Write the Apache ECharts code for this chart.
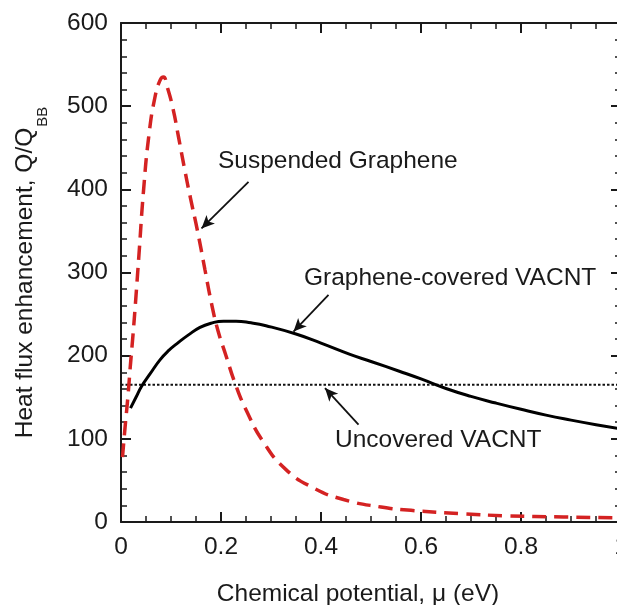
<!DOCTYPE html>
<html>
<head>
<meta charset="utf-8">
<script src="https://cdn.jsdelivr.net/npm/echarts@6/dist/echarts.min.js"></script>
<style>
  html, body { margin: 0; padding: 0; background: #fff; }
  #chart { width: 617px; height: 605px; }
</style>
</head>
<body>
<div id="chart"></div>
<script>
// Heat flux enhancement versus chemical potential

// Tick labels
const xTickLabels = ['0', '0.2', '0.4', '0.6', '0.8', '1'];
const yTickLabels = ['0', '100', '200', '300', '400', '500', '600'];

// Suspended graphene: [mu (eV), Q/QBB]
const suspendedGraphene = [
  [0.003, 78], [0.008, 113], [0.014, 152], [0.019, 190], [0.024, 225],
  [0.030, 272], [0.036, 322], [0.045, 398], [0.056, 466], [0.068, 511],
  [0.078, 531], [0.085, 535], [0.092, 524], [0.104, 497], [0.115, 463],
  [0.127, 425], [0.138, 392], [0.153, 350], [0.168, 303], [0.182, 260],
  [0.194, 230], [0.210, 200], [0.228, 167], [0.250, 135], [0.285, 96],
  [0.330, 63], [0.385, 41], [0.445, 27], [0.520, 18], [0.580, 14],
  [0.680, 10], [0.770, 7.5], [0.885, 6], [1.000, 5]
];

// Graphene-covered VACNT: [mu (eV), Q/QBB]
const grapheneCoveredVACNT = [
  [0.019, 137], [0.030, 150], [0.041, 163], [0.058, 178], [0.078, 195],
  [0.095, 206], [0.115, 216], [0.135, 225], [0.158, 234], [0.180, 239],
  [0.205, 241.5], [0.230, 241.5], [0.260, 239.5], [0.290, 236], [0.350, 226],
  [0.400, 215], [0.458, 201.5], [0.500, 193], [0.558, 181], [0.600, 172],
  [0.650, 160.5], [0.700, 151], [0.750, 143], [0.800, 135.5], [0.850, 128.5],
  [0.900, 122.5], [0.950, 117], [1.000, 112]
];

// Uncovered VACNT (constant level)
const uncoveredVACNT = [[0, 165], [1, 165]];

// Annotation arrows: [from, to] in data units
const arrowSuspended = [[0.255, 409], [0.161, 353]];
const arrowCovered = [[0.415, 273], [0.345, 229]];
const arrowUncovered = [[0.475, 117], [0.408, 161]];

const FONT = '"Liberation Sans", Arial, Helvetica, sans-serif';
const INK = '#1a1a1a';
const FS = 24.5;

const chart = echarts.init(document.getElementById('chart'), null, { renderer: 'canvas' });

function axisCommon(extra) {
  return Object.assign({
    type: 'value',
    axisLine: { show: true, onZero: false, lineStyle: { color: INK, width: 2 } },
    axisTick: { show: true, inside: true, length: 10, lineStyle: { color: INK, width: 2 } },
    minorTick: { show: true, length: 6, lineStyle: { color: INK, width: 1.5 } },
    splitLine: { show: false },
    minorSplitLine: { show: false }
  }, extra);
}

const xFmt = v => xTickLabels[Math.round(v / 0.2)];
const yFmt = v => yTickLabels[Math.round(v / 100)];

chart.setOption({
  animation: false,
  backgroundColor: '#fff',
  grid: { left: 121, top: 23, width: 500, height: 499, containLabel: false, outerBoundsMode: 'none' },
  xAxis: [
    axisCommon({
      position: 'bottom', min: 0, max: 1, interval: 0.2,
      minorTick: { show: true, splitNumber: 4, length: 6, lineStyle: { color: INK, width: 1.5 } },
      axisLabel: { show: true, formatter: xFmt, fontSize: FS, fontFamily: FONT, color: INK, margin: 13 },
      name: 'Chemical potential, \u03bc (eV)',
      nameLocation: 'middle', nameGap: 60,
      nameTextStyle: { fontSize: FS, fontFamily: FONT, color: INK, padding: [0, 26, 0, 0] }
    }),
    axisCommon({
      position: 'top', min: 0, max: 1, interval: 0.2,
      minorTick: { show: true, splitNumber: 4, length: 6, lineStyle: { color: INK, width: 1.5 } },
      axisLabel: { show: false }
    })
  ],
  yAxis: [
    axisCommon({
      position: 'left', min: 0, max: 600, interval: 100,
      minorTick: { show: true, splitNumber: 5, length: 6, lineStyle: { color: INK, width: 1.5 } },
      axisLabel: { show: true, formatter: yFmt, fontSize: FS, fontFamily: FONT, color: INK, margin: 13 },
      name: '{a|Heat flux enhancement, Q/Q}{b|BB}',
      nameLocation: 'middle', nameRotate: 90, nameGap: 78,
      nameTextStyle: {
        rich: {
          a: { fontSize: FS, fontFamily: FONT, color: INK, lineHeight: 30, verticalAlign: 'top' },
          b: { fontSize: 15, fontFamily: FONT, color: INK, lineHeight: 15, padding: [22, 0, 0, 1], verticalAlign: 'top' }
        }
      }
    }),
    axisCommon({
      position: 'right', min: 0, max: 600, interval: 100,
      minorTick: { show: true, splitNumber: 5, length: 6, lineStyle: { color: INK, width: 1.5 } },
      axisLabel: { show: false }
    })
  ],
  series: [
    {
      name: 'Uncovered VACNT',
      type: 'line',
      data: uncoveredVACNT,
      symbol: 'none',
      lineStyle: { color: '#111', width: 2, type: [2.5, 2] },
      z: 2,
      markLine: {
        silent: true,
        symbol: ['none', 'arrow'],
        symbolSize: [9, 13],
        label: { show: false },
        lineStyle: { color: '#111', width: 1.8, type: 'solid' },
        data: [arrowSuspended, arrowCovered, arrowUncovered].map(a => [
          { coord: a[0] }, { coord: a[1] }
        ])
      }
    },
    {
      name: 'Graphene-covered VACNT',
      type: 'line',
      data: grapheneCoveredVACNT,
      symbol: 'none',
      smooth: 0.5,
      lineStyle: { color: '#000', width: 3 },
      z: 3
    },
    {
      name: 'Suspended Graphene',
      type: 'line',
      data: suspendedGraphene,
      symbol: 'none',
      smooth: 0.5,
      lineStyle: { color: '#d42222', width: 3.5, type: [14, 8] },
      z: 4
    }
  ],
  graphic: [
    { type: 'text', x: 218, y: 161, style: { text: 'Suspended Graphene', fontSize: FS, fontFamily: FONT, fill: INK, verticalAlign: 'middle' } },
    { type: 'text', x: 304, y: 278, style: { text: 'Graphene-covered VACNT', fontSize: FS, fontFamily: FONT, fill: INK, verticalAlign: 'middle' } },
    { type: 'text', x: 335, y: 440, style: { text: 'Uncovered VACNT', fontSize: FS, fontFamily: FONT, fill: INK, verticalAlign: 'middle' } }
  ]
});
</script>
</body>
</html>
